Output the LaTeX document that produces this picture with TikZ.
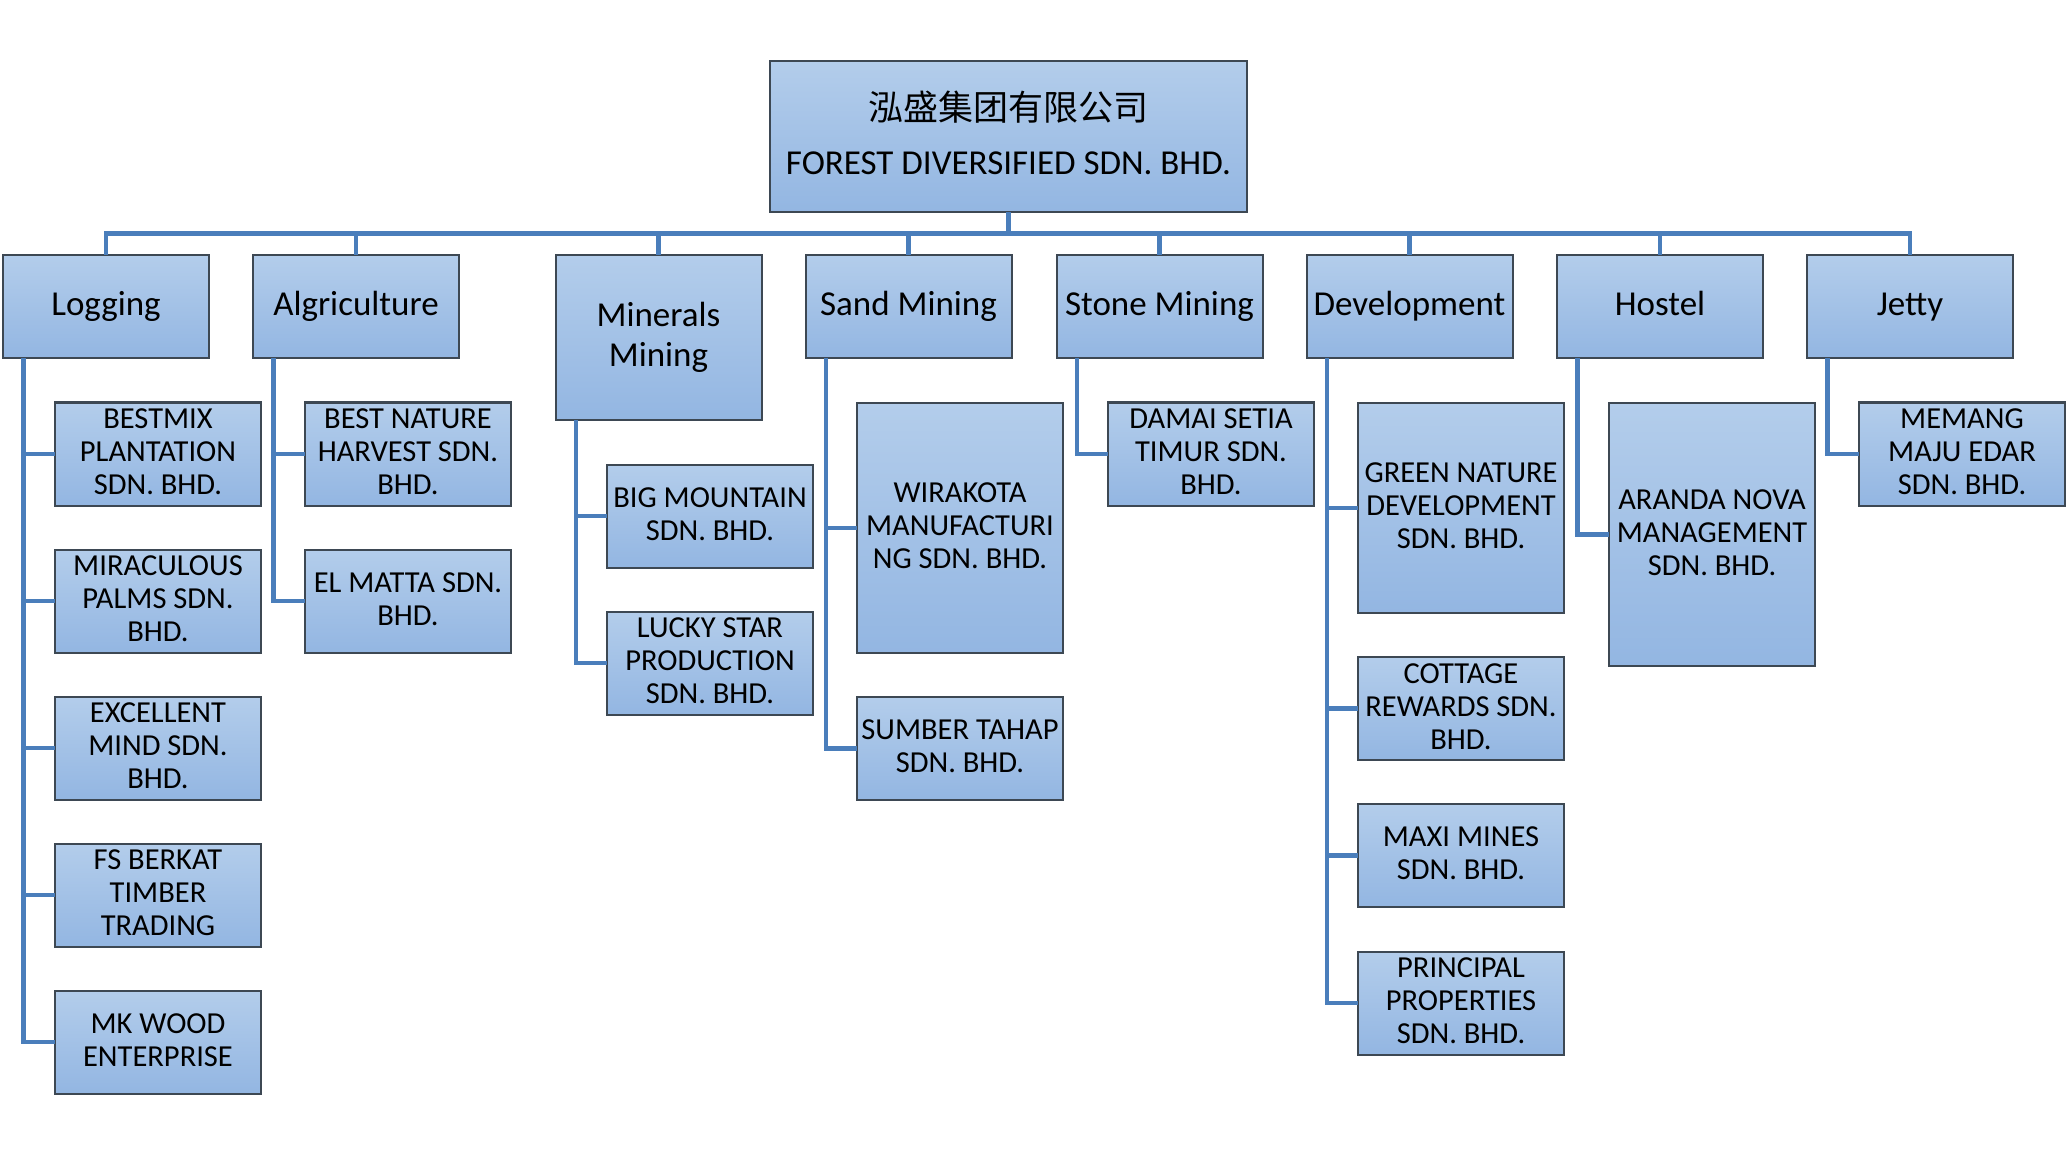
\documentclass[tikz,border=0pt]{standalone}
\usepackage{fontspec}
\setmainfont{Carlito}
\newfontfamily\cjk{Noto Sans CJK SC}
\newcommand{\mystrut}[1]{\rule[-#1\baselineskip]{0pt}{\baselineskip}}
\definecolor{connblue}{HTML}{4A7EBB}
\definecolor{boxtop}{HTML}{B3CDEB}
\definecolor{boxbot}{HTML}{93B6E2}
\definecolor{boxline}{HTML}{3D4853}
\begin{document}
\begin{tikzpicture}[x=0.5pt,y=-0.5pt,
  orgbox/.style={rectangle, draw=boxline, line width=1pt, top color=boxtop, bottom color=boxbot,
    inner sep=0pt, outer sep=0pt, align=center, text=black},
  topbox/.style={orgbox, minimum width=238.5pt, minimum height=75.5pt, font=\fontsize{17.5}{18}\selectfont,
    execute at begin node={\mystrut{0.2}}, execute at end node={\mystrut{0.2}}},
  catbox/.style={orgbox, minimum width=103pt, minimum height=51.5pt, font=\fontsize{17.5}{20}\selectfont,
    execute at begin node={\mystrut{0.265}}, execute at end node={\mystrut{0.265}}},
  catboxlow/.style={orgbox, minimum width=103pt, minimum height=51.5pt, font=\fontsize{17.5}{20}\selectfont,
    execute at begin node={\mystrut{0.1}}, execute at end node={\mystrut{0.1}}},
  subbox/.style={orgbox, minimum width=103pt, minimum height=51.5pt, font=\fontsize{15.25}{16.5}\selectfont,
    execute at begin node={\mystrut{0.124}}, execute at end node={\mystrut{0.124}}},
  linkline/.style={draw=connblue, line width=2.3pt},
]
\useasboundingbox[fill=white] (0,0) rectangle (2068,1155);

\coordinate (bus) at (0,233.5);

% top
\node[topbox] (top) at (1008.5,136.5) {{\cjk 泓盛集团有限公司}\\[9pt]FOREST DIVERSIFIED SDN. BHD.};

% categories
\node[catbox] (log) at (106,306.5) {Logging};
\node[catbox] (alg) at (356,306.5) {Algriculture};
\node[catboxlow, minimum height=82.5pt] (min) at (658.5,337.5) {Minerals\\Mining};
\node[catbox] (sand) at (908.5,306.5) {Sand Mining};
\node[catbox] (stone) at (1159.5,306.5) {Stone Mining};
\node[catbox] (dev) at (1409.5,306.5) {Development};
\node[catbox] (hos) at (1660,306.5) {Hostel};
\node[catbox] (jet) at (1910,306.5) {Jetty};

\draw[linkline] (log.north) |- (jet.north |- bus) -- (jet.north);
\draw[linkline] (top.south) -- (top.south |- bus);
\foreach \n in {alg,min,sand,stone,dev,hos} \draw[linkline] (\n.north) -- (\n.north |- bus);

% Logging
\node[subbox] (bm) at (158,454) {BESTMIX\\PLANTATION\\SDN. BHD.};
\node[subbox] (mir) at (158,601) {MIRACULOUS\\PALMS SDN.\\BHD.};
\node[subbox] (exc) at (158,748) {EXCELLENT\\MIND SDN.\\BHD.};
\node[subbox] (fs) at (158,895) {FS BERKAT\\TIMBER\\TRADING};
\node[subbox] (mk) at (158,1042) {MK WOOD\\ENTERPRISE};
\coordinate (logT) at ([xshift=10.25pt]log.south west);
\draw[linkline] (logT) |- (mk.west);
\foreach \c in {bm,mir,exc,fs} \draw[linkline] (\c.west) -- (\c.west -| logT);

% Algriculture
\node[subbox] (bn) at (408,454) {BEST NATURE\\HARVEST SDN.\\BHD.};
\node[subbox] (elm) at (408,601) {EL MATTA SDN.\\BHD.};
\coordinate (algT) at ([xshift=10.25pt]alg.south west);
\draw[linkline] (algT) |- (elm.west);
\draw[linkline] (bn.west) -- (bn.west -| algT);

% Minerals Mining
\node[subbox] (big) at (710,516) {BIG MOUNTAIN\\SDN. BHD.};
\node[subbox] (lucky) at (710,663) {LUCKY STAR\\PRODUCTION\\SDN. BHD.};
\coordinate (minT) at ([xshift=10.25pt]min.south west);
\draw[linkline] (minT) |- (lucky.west);
\draw[linkline] (big.west) -- (big.west -| minT);

% Sand Mining
\node[subbox, minimum height=125pt] (wira) at (960,528) {WIRAKOTA\\MANUFACTURI\\NG SDN. BHD.};
\node[subbox] (sumber) at (960,748.5) {SUMBER TAHAP\\SDN. BHD.};
\coordinate (sandT) at ([xshift=10.25pt]sand.south west);
\draw[linkline] (sandT) |- (sumber.west);
\draw[linkline] (wira.west) -- (wira.west -| sandT);

% Stone Mining
\node[subbox] (damai) at (1211,454) {DAMAI SETIA\\TIMUR SDN.\\BHD.};
\coordinate (stoneT) at ([xshift=10.25pt]stone.south west);
\draw[linkline] (stoneT) |- (damai.west);

% Development
\node[subbox, minimum height=105pt] (green) at (1461,508) {GREEN NATURE\\DEVELOPMENT\\SDN. BHD.};
\node[subbox] (cot) at (1461,708.5) {COTTAGE\\REWARDS SDN.\\BHD.};
\node[subbox] (maxi) at (1461,855.5) {MAXI MINES\\SDN. BHD.};
\node[subbox] (prin) at (1461,1003) {PRINCIPAL\\PROPERTIES\\SDN. BHD.};
\coordinate (devT) at ([xshift=10.25pt]dev.south west);
\draw[linkline] (devT) |- (prin.west);
\foreach \c in {green,cot,maxi} \draw[linkline] (\c.west) -- (\c.west -| devT);

% Hostel
\node[subbox, minimum height=131.5pt] (aranda) at (1712,534.5) {ARANDA NOVA\\MANAGEMENT\\SDN. BHD.};
\coordinate (hosT) at ([xshift=10.25pt]hos.south west);
\draw[linkline] (hosT) |- (aranda.west);

% Jetty
\node[subbox] (mem) at (1962,454) {MEMANG\\MAJU EDAR\\SDN. BHD.};
\coordinate (jetT) at ([xshift=10.25pt]jet.south west);
\draw[linkline] (jetT) |- (mem.west);
\end{tikzpicture}
\end{document}
